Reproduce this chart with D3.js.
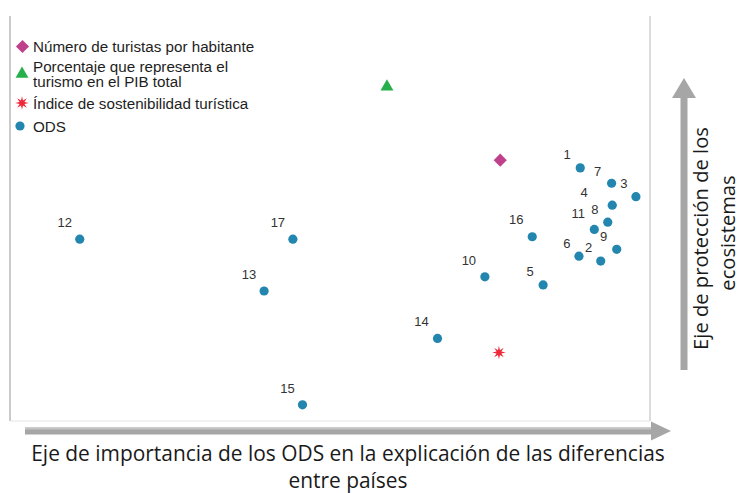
<!DOCTYPE html>
<html><head><meta charset="utf-8">
<script src="https://cdn.jsdelivr.net/npm/d3@7"></script>
<style>body{margin:0;background:#fff}svg{display:block}</style>
</head><body><svg id="c" width="742" height="493"></svg>
<script>
// ---- data ----
const odsLabels = ["1","2","3","4","5","6","7","8","9","10","11","12","13","14","15","16","17"];
const odsX = [8.91, 9.23, 9.78, 9.41, 8.33, 8.89, 9.40, 9.34, 9.48, 7.42, 9.13, 1.09, 3.97, 6.68, 4.57, 8.16, 4.42];
const odsY = [6.25, 3.95, 5.54, 5.33, 3.36, 4.07, 5.87, 4.91, 4.24, 3.56, 4.73, 4.49, 3.21, 2.04, 0.40, 4.55, 4.49];
const labelDx = [-13,-12,-12,-28,-13,-12,-14,-13,-13,-16,-16,-15,-15,-16,-15,-16,-15];
const labelDy = [-13,-14,-13,-13,-13,-13,-12,-13,-13,-16,-16,-17,-16,-17,-16,-17,-17];
const indicatorNames = ["Número de turistas por habitante", "Porcentaje que representa el turismo en el PIB total", "Índice de sostenibilidad turística"];
const indicatorX = [7.66, 5.89, 7.64];
const indicatorY = [6.44, 8.28, 1.69];
const legendLines = [["Número de turistas por habitante"], ["Porcentaje que representa el", "turismo en el PIB total"], ["Índice de sostenibilidad turística"], ["ODS"]];
const xTitle = ["Eje de importancia de los ODS en la explicación de las diferencias", "entre países"];
const yTitle = ["Eje de protección de los", "ecosistemas"];
const xDomain = [0, 10];
const yDomain = [0, 10];

// ---- layout ----
const svg = d3.select("#c");
const L = 10, R = 650, T = 16, B = 421;
const x = d3.scaleLinear().domain(xDomain).range([L, R]);
const y = d3.scaleLinear().domain(yDomain).range([B, T]);
const odsColor = "#2386ae", diaColor = "#c0418b", triColor = "#25b04b", starColor = "#f0283a";

// plot frame
svg.append("line").attr("x1", L).attr("x2", L).attr("y1", T).attr("y2", B).attr("stroke", "#a8a8a8").attr("stroke-width", 1.2);
svg.append("line").attr("x1", R).attr("x2", R).attr("y1", T).attr("y2", B).attr("stroke", "#c4c4c4").attr("stroke-width", 1.2);
svg.append("line").attr("x1", L).attr("x2", R).attr("y1", B).attr("y2", B).attr("stroke", "#e4e4e4").attr("stroke-width", 1);

// symbols
const starPath = (() => {
  const n = 8, ro = 6.8, ri = 2.6; const p = [];
  for (let i = 0; i < 2 * n; i++) {
    const a = Math.PI * i / n - Math.PI / 2, r = i % 2 ? ri : ro;
    p.push([r * Math.cos(a), r * Math.sin(a)]);
  }
  return "M" + p.map(d => d.join(",")).join("L") + "Z";
})();
const diamondPath = d3.symbol(d3.symbolSquare, 86)();
const triPath = d3.symbol(d3.symbolTriangle, 72)();

function drawSymbol(g, i) {
  if (i === 0) g.append("path").attr("d", diamondPath).attr("transform", "rotate(45)").attr("fill", diaColor);
  else if (i === 1) g.append("path").attr("d", triPath).attr("transform", "translate(0,1)").attr("fill", triColor);
  else if (i === 2) g.append("path").attr("d", starPath).attr("fill", starColor);
  else g.append("circle").attr("r", 4.6).attr("fill", odsColor);
}

// ODS points
const ods = odsLabels.map((l, i) => ({ l, x: odsX[i], y: odsY[i], dx: labelDx[i], dy: labelDy[i] }));
const gp = svg.append("g");
gp.selectAll("circle.ods").data(ods).join("circle").attr("class", "ods")
  .attr("cx", d => x(d.x)).attr("cy", d => y(d.y)).attr("r", 4.6).attr("fill", odsColor);
gp.selectAll("text.lab").data(ods).join("text").attr("class", "lab")
  .attr("x", d => x(d.x) + d.dx).attr("y", d => y(d.y) + d.dy)
  .attr("text-anchor", "middle").attr("dominant-baseline", "central")
  .attr("font-family", "Liberation Sans, Arial, sans-serif").attr("font-size", 13).attr("fill", "#333")
  .text(d => d.l);

// indicator points
indicatorNames.forEach((n, i) => {
  const g = svg.append("g").attr("transform", `translate(${x(indicatorX[i])},${y(indicatorY[i])})`);
  drawSymbol(g, i);
});

// legend
const legY = [46.5, 66, 103, 126];
const symY = [46.5, 73, 103, 126];
const symX = [22.5, 22, 22, 20];
legendLines.forEach((lines, i) => {
  const g = svg.append("g").attr("transform", `translate(${symX[i]},${symY[i]})`);
  drawSymbol(g, i);
  const t = svg.append("text").attr("font-family", "Liberation Sans, Arial, sans-serif").attr("font-size", 15.2).attr("fill", "#1e1e1e");
  lines.forEach((s, k) => t.append("tspan").attr("x", 33).attr("y", legY[i] + k * 15.5).attr("dominant-baseline", "central").text(s));
});

// arrows
const arrowColor = "#a6a6a6";
svg.append("path").attr("fill", arrowColor)
  .attr("d", "M25,427.5 L651,427.5 L651,421.5 L671,431 L651,440.5 L651,434.5 L25,434.5 Z");
svg.append("path").attr("fill", "#c4c4c4").attr("d", "M25,427.5 L651,427.5 L651,429.5 L25,429.5 Z");
svg.append("path").attr("fill", arrowColor)
  .attr("d", "M680.5,370 L680.5,98 L672,98 L684,78 L696,98 L687.5,98 L687.5,370 Z");

// axis titles
const titleFont = "Open Sans, sans-serif";
function fitText(sel, target) {
  const len = sel.node().getComputedTextLength();
  const fs = +sel.attr("font-size");
  sel.attr("font-size", fs * target / len);
  return fs * target / len;
}
const xt1 = svg.append("text").attr("x", 348).attr("y", 460.5).attr("text-anchor", "middle")
  .attr("font-family", titleFont).attr("font-size", 18).attr("fill", "#1a1a1a").text(xTitle[0]);
const fsx = fitText(xt1, 634);
svg.append("text").attr("x", 348).attr("y", 487.5).attr("text-anchor", "middle")
  .attr("font-family", titleFont).attr("font-size", fsx).attr("fill", "#1a1a1a").text(xTitle[1]);

const yt1 = svg.append("text").attr("transform", "translate(708,238.5) rotate(-90)").attr("text-anchor", "middle")
  .attr("font-family", titleFont).attr("font-size", 18).attr("fill", "#1a1a1a").text(yTitle[0]);
const fsy = fitText(yt1, 223);
svg.append("text").attr("transform", "translate(735,233) rotate(-90)").attr("text-anchor", "middle")
  .attr("font-family", titleFont).attr("font-size", fsy).attr("fill", "#1a1a1a").text(yTitle[1]);
</script></body></html>
